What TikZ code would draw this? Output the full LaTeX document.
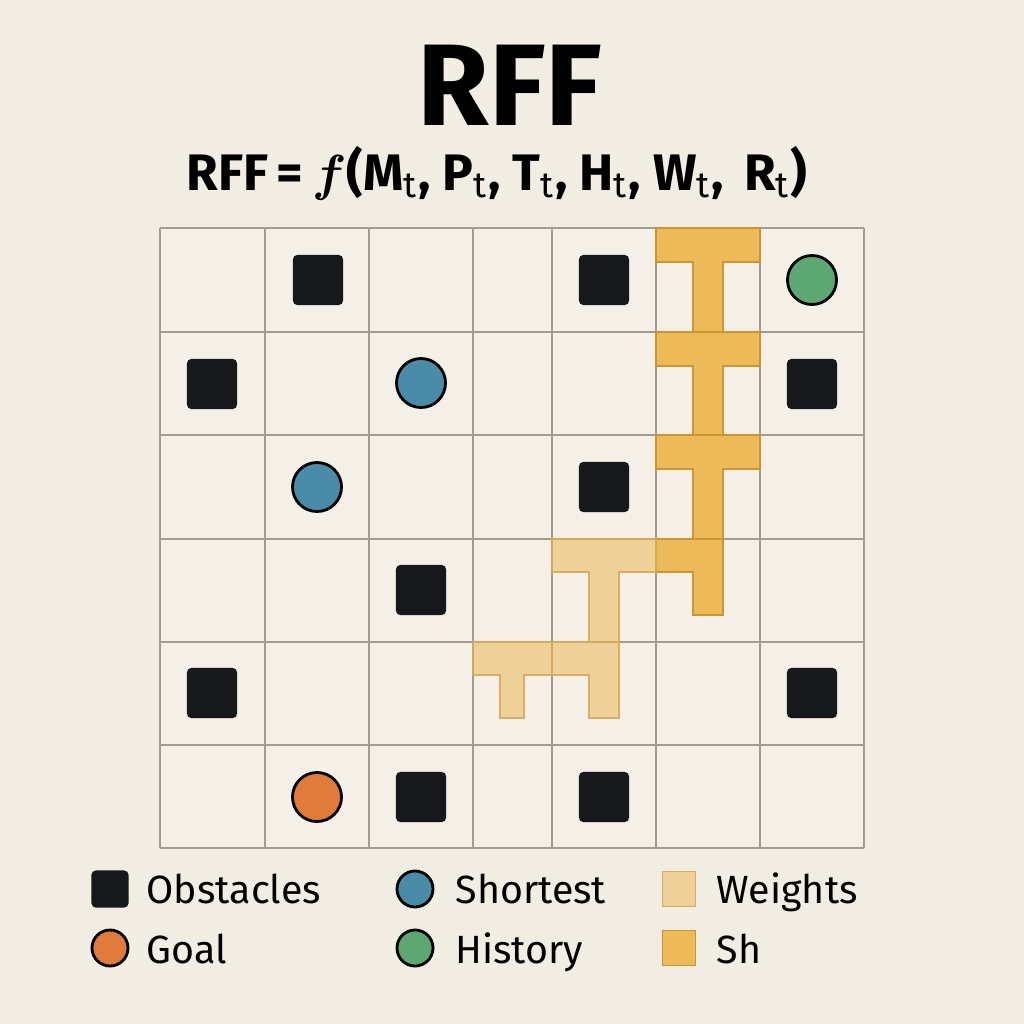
\documentclass[tikz,border=0pt]{standalone}
\usepackage{amsmath}
\usepackage{fontspec}
\setmainfont{Fira Sans}
\usetikzlibrary{positioning}
\definecolor{paper}{HTML}{F2EDE2}
\definecolor{cellbg}{HTML}{F4F0E7}
\definecolor{gridgray}{HTML}{A19D94}
\definecolor{obstblack}{HTML}{16181C}
\definecolor{shortblue}{HTML}{4A8BA8}
\definecolor{histgreen}{HTML}{5DA872}
\definecolor{goalorange}{HTML}{E07B39}
\definecolor{shyellow}{HTML}{ECBA58}
\definecolor{shedge}{HTML}{C9962F}
\definecolor{wtyellow}{HTML}{EBC070}
\definecolor{wtedge}{HTML}{D6AA58}
\newcommand{\tsub}{\textsubscript{\mdseries t}}

\begin{document}
\begin{tikzpicture}[
    x=0.01cm, y=-0.01cm,
    obst/.style={rectangle, rounded corners=1.2pt, fill=obstblack, minimum size=0.5cm, inner sep=0pt},
    dot/.style={circle, draw=black, line width=0.8pt, minimum size=0.49cm, inner sep=0pt},
    gridline/.style={draw=gridgray, line width=0.6pt},
    sh/.style={fill=shyellow, draw=shedge, line width=0.5pt, line join=miter},
    wt/.style={fill=wtyellow, fill opacity=0.65, draw=wtedge, draw opacity=0.9, line width=0.5pt},
    legtext/.style={anchor=base west, font=\fontsize{11.2}{13}\selectfont, inner sep=0pt}
]
\fill[paper] (0,0) rectangle (1024,1024);
\fill[cellbg] (160,228) rectangle (864,848);

\node[anchor=base, font=\fontsize{33}{36}\selectfont\bfseries, inner sep=0pt] (title) at (510,125) {RFF};
\node[anchor=base, font=\fontsize{14.6}{17}\selectfont\bfseries, inner sep=0pt] (formula) at (497,190)
  {RFF\,=\,$\boldsymbol{f}$(M\tsub, P\tsub, T\tsub, H\tsub, W\tsub, \,R\tsub)};

\foreach \gx in {160,265,369,473,552,656,760,864}
  \draw[gridline] (\gx,228) -- (\gx,848);
\foreach \gy in {228,332,435,539,642,745,848}
  \draw[gridline] (160,\gy) -- (864,\gy);

\foreach \t/\b in {228/332, 332/435, 435/539}
  \draw[sh] (656,\t) -- (760,\t) -- (760,\t+34) -- (723,\t+34) -- (723,\b) -- (693,\b) -- (693,\t+34) -- (656,\t+34) -- cycle;
\draw[sh] (656,539) -- (723,539) -- (723,615) -- (693,615) -- (693,572) -- (656,572) -- cycle;

\draw[wt] (552,539) -- (656,539) -- (656,572) -- (619,572) -- (619,642) -- (589,642) -- (589,572) -- (552,572) -- cycle;
\draw[wt] (473,642) -- (552,642) -- (552,675) -- (524,675) -- (524,718) -- (500,718) -- (500,675) -- (473,675) -- cycle;
\draw[wt] (552,642) -- (619,642) -- (619,718) -- (589,718) -- (589,675) -- (552,675) -- cycle;

\node[obst] (o1) at (318,280) {};
\node[obst] (o2) at (604,280) {};
\node[obst] (o3) at (212,384) {};
\node[obst] (o4) at (812,384) {};
\node[obst] (o5) at (604,487) {};
\node[obst] (o6) at (421,590) {};
\node[obst] (o7) at (212,693) {};
\node[obst] (o8) at (812,693) {};
\node[obst] (o9) at (421,797) {};
\node[obst] (o10) at (604,797) {};

\node[dot, fill=histgreen] (hist) at (812,280) {};
\node[dot, fill=shortblue] (short1) at (421,383) {};
\node[dot, fill=shortblue] (short2) at (317,487) {};
\node[dot, fill=goalorange] (goal) at (317,797) {};

\node[obst, minimum size=0.37cm] (kobst) at (110,889) {};
\node[dot, fill=goalorange, minimum size=0.36cm] (kgoal) at (110,948) {};
\node[dot, fill=shortblue, minimum size=0.36cm] (kshort) at (415,889) {};
\node[dot, fill=histgreen, minimum size=0.36cm] (khist) at (415,948) {};
\node[rectangle, wt, minimum width=0.33cm, minimum height=0.35cm, inner sep=0pt] (kwt) at (679,889) {};
\node[rectangle, sh, minimum width=0.33cm, minimum height=0.35cm, inner sep=0pt] (ksh) at (679,948) {};

\node[legtext] (tobst) at (146,903) {Obstacles};
\node[legtext] (tgoal) at (146,963) {Goal};
\node[legtext] (tshort) at (455,903) {Shortest};
\node[legtext] (thist) at (455,963) {History};
\node[legtext] (twt) at (716,903) {Weights};
\node[legtext] (tsh) at (716,963) {Sh};
\end{tikzpicture}
\end{document}
